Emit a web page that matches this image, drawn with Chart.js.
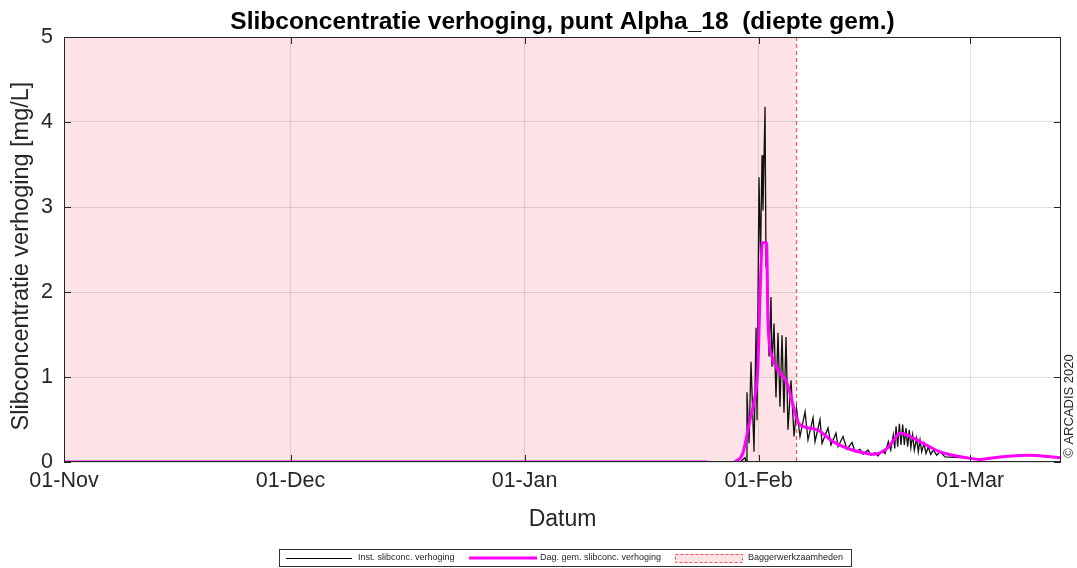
<!DOCTYPE html>
<html lang="nl">
<head>
<meta charset="UTF-8">
<title>Slibconcentratie verhoging - Alpha_18</title>
<script src="https://cdn.jsdelivr.net/npm/chart.js"></script>
<style>
  body { margin: 0; background: #fff; }
  #grafiek { display: block; }
</style>
</head>
<body>
<canvas id="grafiek" width="1077" height="568"></canvas>
<script>
// x-as in dagen vanaf 01-Nov
const maandDagen = [0, 30, 61, 92, 120];
const maandLabels = ['01-Nov', '01-Dec', '01-Jan', '01-Feb', '01-Mar'];
const eindDag = 132.05;
const eindeBaggeren = 96.9;

// instantane slibconcentratie verhoging [mg/L]
const instDagen = [0, 88.5, 89.54, 90.2, 90.33, 90.46, 90.73, 90.99, 91.39, 91.66, 91.79,
  92.05, 92.25, 92.45, 92.58, 92.85, 92.98, 93.1, 93.38, 93.64, 93.77, 94.04, 94.3,
  94.57, 94.83, 95.1, 95.36, 95.63, 95.89, 96.29, 96.69, 97.02, 97.48, 98.15, 98.54,
  99.21, 99.47, 100.13, 100.4, 101.19, 101.59, 102.25, 102.52, 103.18, 103.71, 104.37,
  104.77, 105.43, 105.83, 106.49, 106.89, 107.42, 107.81, 108.34, 108.74, 109.18, 109.5,
  109.84, 110.03, 110.2, 110.42, 110.64, 110.86, 111.08, 111.3, 111.52, 111.74, 111.95,
  112.17, 112.4, 112.62, 112.93, 113.15, 113.38, 113.6, 113.91, 114.17, 114.48, 114.79,
  115.14, 115.59, 116.03, 116.69, 119.6, 121.3, 124.0, 127.5, 132.05];
const instWaarden = [0, 0, 0, 0.05, 0, 0.82, 0.22, 1.18, 0.12, 1.58, 0.49,
  3.35, 2.4, 3.61, 2.96, 4.18, 2.3, 2.55, 1.24, 1.94, 1.12, 1.63, 0.76,
  1.52, 0.65, 1.49, 0.58, 1.47, 0.38, 0.96, 0.3, 0.63, 0.3, 0.59, 0.26,
  0.52, 0.24, 0.5, 0.22, 0.4, 0.2, 0.34, 0.18, 0.3, 0.15, 0.23,
  0.12, 0.15, 0.09, 0.14, 0.08, 0.11, 0.07, 0.13, 0.1, 0.24, 0.14,
  0.32, 0.16, 0.42, 0.18, 0.45, 0.2, 0.44, 0.2, 0.4, 0.18, 0.38,
  0.17, 0.32, 0.14, 0.28, 0.12, 0.26, 0.12, 0.22, 0.1, 0.18, 0.09,
  0.14, 0.08, 0.12, 0.06, 0.05, 0.03, 0.06, 0.08, 0.05];

// daggemiddelde slibconcentratie verhoging [mg/L], null = geen data
const gemDagen = [0, 85.2, 85.3, 88.87, 89.9, 90.86, 91.5, 91.9, 92.2, 92.5, 93.05, 93.25,
  93.77, 94.57, 95.76, 97.09, 97.48, 99.74, 101.85, 104.1, 106.36, 107.15, 109.01,
  110.0, 110.73, 111.66, 113.38, 116.03, 119.6, 121.32, 123.97, 127.55, 131.0, 132.05];
const gemWaarden = [0, 0, null, 0, 0.1, 0.5, 0.76, 1.1, 2.0, 2.58, 2.58, 1.63,
  1.24, 1.08, 0.93, 0.5, 0.44, 0.38, 0.24, 0.15, 0.1, 0.09, 0.16,
  0.27, 0.34, 0.32, 0.24, 0.12, 0.05, 0.03, 0.06, 0.08, 0.06, 0.05];

const roze = 'rgb(253, 227, 229)';
const tekstKleur = '#262626';
const font = '"Liberation Sans", Arial, Helvetica, sans-serif';

function punten(xs, ys) {
  return xs.map((x, i) => ({ x: x, y: ys[i] }));
}

// MATLAB-achtige opmaak: arcering, kader, tickjes, titels en legenda
const matlabStijl = {
  id: 'matlabStijl',
  beforeDraw(chart) {
    const ctx = chart.ctx, a = chart.chartArea, x = chart.scales.x;
    ctx.save();
    ctx.fillStyle = '#fff';
    ctx.fillRect(0, 0, chart.width, chart.height);
    ctx.fillStyle = roze;
    const xb = x.getPixelForValue(eindeBaggeren);
    ctx.fillRect(a.left, a.top, xb - a.left, a.bottom - a.top);
    ctx.restore();
  },
  beforeDatasetsDraw(chart) {
    const ctx = chart.ctx, a = chart.chartArea, x = chart.scales.x;
    const xb = Math.round(x.getPixelForValue(eindeBaggeren)) + 0.5;
    ctx.save();
    ctx.strokeStyle = '#ff4d4d';
    ctx.lineWidth = 1.2;
    ctx.setLineDash([4, 3]);
    ctx.beginPath();
    ctx.moveTo(xb, a.top);
    ctx.lineTo(xb, a.bottom);
    ctx.stroke();
    ctx.restore();
  },
  afterDatasetsDraw(chart) {
    const ctx = chart.ctx, a = chart.chartArea, x = chart.scales.x, y = chart.scales.y;
    ctx.save();
    ctx.strokeStyle = tekstKleur;
    ctx.lineWidth = 1;
    ctx.strokeRect(a.left + 0.5, a.top + 0.5, a.right - a.left - 1, a.bottom - a.top - 1);
    ctx.beginPath();
    maandDagen.forEach(d => {
      const px = Math.round(x.getPixelForValue(d)) + 0.5;
      ctx.moveTo(px, a.bottom); ctx.lineTo(px, a.bottom - 7);
      ctx.moveTo(px, a.top); ctx.lineTo(px, a.top + 7);
    });
    [0, 1, 2, 3, 4, 5].forEach(v => {
      const py = Math.round(y.getPixelForValue(v)) + 0.5;
      ctx.moveTo(a.left, py); ctx.lineTo(a.left + 7, py);
      ctx.moveTo(a.right, py); ctx.lineTo(a.right - 7, py);
    });
    ctx.stroke();
    ctx.restore();
  },
  afterDraw(chart) {
    const ctx = chart.ctx, a = chart.chartArea;
    const midden = (a.left + a.right) / 2;
    ctx.save();
    ctx.fillStyle = '#000';
    ctx.textAlign = 'center';
    ctx.textBaseline = 'alphabetic';
    ctx.font = 'bold 24.5px ' + font;
    ctx.fillText('Slibconcentratie verhoging, punt Alpha_18  (diepte gem.)', midden, 29);

    ctx.fillStyle = tekstKleur;
    ctx.font = '23px ' + font;
    ctx.textBaseline = 'middle';
    ctx.fillText('Datum', midden, 520);

    ctx.save();
    ctx.translate(22, 256);
    ctx.rotate(-Math.PI / 2);
    ctx.font = '23.5px ' + font;
    ctx.fillText('Slibconcentratie verhoging [mg/L]', 0, 0);
    ctx.restore();

    ctx.save();
    ctx.translate(1069, 406);
    ctx.rotate(-Math.PI / 2);
    ctx.font = '13px ' + font;
    ctx.fillText('\u00A9 ARCADIS 2020', 0, 0);
    ctx.restore();

    // legenda
    const ly = 558;
    ctx.fillStyle = '#fff';
    ctx.fillRect(279, 549, 572, 18);
    ctx.strokeStyle = '#333';
    ctx.lineWidth = 1;
    ctx.strokeRect(279.5, 549.5, 572, 17);
    ctx.beginPath();
    ctx.strokeStyle = '#000';
    ctx.moveTo(286, ly + 0.5); ctx.lineTo(352, ly + 0.5);
    ctx.stroke();
    ctx.beginPath();
    ctx.strokeStyle = '#ff00ff';
    ctx.lineWidth = 3;
    ctx.moveTo(469, ly); ctx.lineTo(537, ly);
    ctx.stroke();
    ctx.fillStyle = roze;
    ctx.fillRect(675, 554, 67, 8);
    ctx.strokeStyle = '#ff4d4d';
    ctx.lineWidth = 1;
    ctx.setLineDash([3, 2]);
    ctx.strokeRect(675.5, 554.5, 67, 8);
    ctx.setLineDash([]);
    ctx.fillStyle = tekstKleur;
    ctx.font = '9px ' + font;
    ctx.textAlign = 'left';
    ctx.fillText('Inst. slibconc. verhoging', 358, ly);
    ctx.fillText('Dag. gem. slibconc. verhoging', 540, ly);
    ctx.fillText('Baggerwerkzaamheden', 748, ly);
    ctx.restore();
  }
};

new Chart(document.getElementById('grafiek'), {
  type: 'line',
  data: {
    datasets: [
      {
        label: 'Inst. slibconc. verhoging',
        data: punten(instDagen, instWaarden),
        borderColor: '#111',
        borderWidth: 1.3,
        pointRadius: 0,
        tension: 0,
        order: 2
      },
      {
        label: 'Dag. gem. slibconc. verhoging',
        data: punten(gemDagen, gemWaarden),
        borderColor: '#ff00ff',
        borderWidth: 3,
        pointRadius: 0,
        cubicInterpolationMode: 'monotone',
        spanGaps: false,
        order: 1
      }
    ]
  },
  options: {
    responsive: false,
    animation: false,
    layout: { padding: { top: 37, right: 16, left: 0, bottom: 0 } },
    plugins: { legend: { display: false }, tooltip: { enabled: false } },
    scales: {
      x: {
        type: 'linear',
        min: 0,
        max: eindDag,
        afterBuildTicks(scale) { scale.ticks = maandDagen.map(v => ({ value: v })); },
        afterFit(scale) { scale.height = 106; },
        ticks: {
          autoSkip: false,
          maxRotation: 0,
          padding: 6,
          color: tekstKleur,
          font: { family: font, size: 21.5 },
          callback: v => maandLabels[maandDagen.indexOf(v)]
        },
        grid: { color: 'rgba(38,38,38,0.14)', drawTicks: false },
        border: { display: false }
      },
      y: {
        min: 0,
        max: 5,
        afterFit(scale) { scale.width = 64; },
        ticks: {
          stepSize: 1,
          padding: 11,
          color: tekstKleur,
          font: { family: font, size: 21.5 }
        },
        grid: { color: 'rgba(38,38,38,0.14)', drawTicks: false },
        border: { display: false }
      }
    }
  },
  plugins: [matlabStijl]
});
</script>
</body>
</html>
